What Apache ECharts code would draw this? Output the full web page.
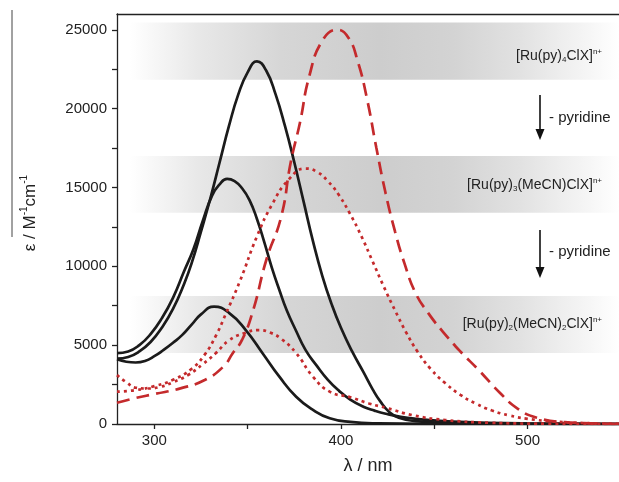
<!DOCTYPE html>
<html>
<head>
<meta charset="utf-8">
<script src="https://cdn.jsdelivr.net/npm/echarts@6/dist/echarts.min.js"></script>
<style>
  html, body { margin: 0; padding: 0; background: #fff; }
  #chart { width: 619px; height: 482px; }
</style>
</head>
<body>
<div id="chart"></div>
<script>
// ---- axis ticks ----
const xTicks = [300, 350, 400, 450, 500];
const xLabels = [300, 400, 500];
const yTicks = [0, 2500, 5000, 7500, 10000, 12500, 15000, 17500, 20000, 22500, 25000];
const yLabels = [0, 5000, 10000, 15000, 20000, 25000];

// ---- black solid spectra ----
const blackA_nm  = [280, 286, 292, 298, 304, 310, 316, 320, 325, 330, 335, 340, 345, 350, 355, 360, 365, 370, 375, 380, 385, 390, 395, 400, 406, 412, 417, 421, 426, 431, 440, 460, 500, 549];
const blackA_eps = [4150, 4250, 4600, 5200, 6100, 7300, 8900, 10200, 12200, 14300, 16600, 18900, 20900, 22300, 23000, 22400, 20900, 18900, 16600, 14100, 11600, 9400, 7600, 6100, 4600, 3300, 2200, 1450, 750, 400, 180, 60, 20, 0];

const blackB_nm  = [280, 286, 292, 298, 304, 310, 316, 321, 326, 331, 335, 339, 343, 347, 351, 355, 359, 363, 367, 371, 376, 381, 387, 393, 399, 405, 412, 418, 424, 432, 440, 460, 500, 549];
const blackB_eps = [4500, 4600, 5000, 5700, 6700, 8000, 9700, 11100, 12900, 14500, 15200, 15545, 15400, 14950, 14200, 13000, 11500, 9900, 8500, 7200, 5900, 4700, 3700, 2800, 2100, 1550, 1100, 850, 650, 450, 330, 150, 30, 0];

const blackC_nm  = [280, 285, 290, 295, 300, 305, 310, 315, 320, 325, 332, 340, 349, 358, 367, 376, 385, 394, 405, 420, 450, 549];
const blackC_eps = [4100, 3950, 3900, 4000, 4300, 4700, 5150, 5650, 6300, 6950, 7440, 7050, 5960, 4490, 3000, 1730, 890, 360, 130, 40, 10, 0];

// ---- red spectra ----
const redDash_nm  = [280, 290, 300, 314, 327, 337, 342, 347, 353, 360, 368, 373, 378, 383, 390, 398, 404, 409, 414, 419, 424, 429, 434, 440, 447, 455, 464, 474, 485, 495, 505, 520, 549];
const redDash_eps = [1350, 1650, 1900, 2260, 2790, 3640, 4490, 5330, 7230, 10400, 13150, 16540, 19090, 22040, 24300, 25000, 24500, 23000, 20600, 17500, 14600, 12200, 10200, 8300, 7000, 5800, 4600, 3400, 2000, 950, 400, 120, 0];

const redDotA_nm  = [280, 290, 300, 310, 320, 327, 333, 338, 346, 355, 363, 372, 381, 387, 393, 399, 405, 411, 417, 423, 429, 435, 441, 448, 456, 464, 472, 481, 490, 500, 515, 530, 549];
const redDotA_eps = [2050, 2150, 2400, 2800, 3500, 4400, 5600, 6900, 9100, 11900, 13900, 15500, 16200, 16000, 15400, 14500, 13300, 11900, 10300, 8700, 7200, 5800, 4600, 3500, 2580, 1850, 1310, 850, 550, 330, 150, 60, 20];

const redDotB_nm  = [280, 285, 290, 296, 303, 310, 318, 326, 333, 340, 348, 356, 362, 368, 376, 385, 394, 405, 415, 425, 438, 456, 480, 510, 549];
const redDotB_eps = [3100, 2650, 2300, 2250, 2350, 2650, 3100, 3800, 4500, 5300, 5750, 5950, 5800, 5400, 4500, 3000, 2050, 1700, 1300, 1000, 570, 250, 80, 20, 0];

// grey bands behind the three complexes [eps low, eps high]
const bands = [[21830, 25460], [13390, 17000], [4500, 8120]];
const bandNm = [287, 549];

const FONT = '"Liberation Sans", Arial, sans-serif';
const BLACK = '#1b1b1b';
const RED = '#c42a2c';

const zip = (xs, ys) => xs.map((x, i) => [x, ys[i]]);

const bandFill = new echarts.graphic.LinearGradient(0, 0, 1, 0, [
  { offset: 0, color: '#ffffff' },
  { offset: 0.14, color: '#e8e8e8' },
  { offset: 0.31, color: '#d6d6d6' },
  { offset: 0.51, color: '#cdcdcd' },
  { offset: 0.66, color: '#d3d3d3' },
  { offset: 0.8, color: '#e2e2e2' },
  { offset: 0.94, color: '#f6f6f6' },
  { offset: 1, color: '#ffffff' }
]);

function line(name, data, color, type) {
  return {
    name, type: 'line', data, showSymbol: false, smooth: 0.5, silent: true,
    lineStyle: { color, width: 2.7, type, cap: 'butt' }
  };
}

const series = [
  line('A', zip(blackA_nm, blackA_eps), BLACK, 'solid'),
  line('B', zip(blackB_nm, blackB_eps), BLACK, 'solid'),
  line('C', zip(blackC_nm, blackC_eps), BLACK, 'solid'),
  line('D', zip(redDash_nm, redDash_eps), RED, [13, 7]),
  line('E', zip(redDotA_nm, redDotA_eps), RED, [3, 4]),
  line('F', zip(redDotB_nm, redDotB_eps), RED, [3, 4])
];
series[0].markArea = {
  silent: true,
  itemStyle: { color: bandFill },
  data: bands.map(b => [{ xAxis: bandNm[0], yAxis: b[0] }, { xAxis: bandNm[1], yAxis: b[1] }])
};

const richLabel = {
  sub: { fontSize: 8, fontFamily: FONT, fill: '#222', verticalAlign: 'bottom', lineHeight: 16 },
  sup: { fontSize: 8, fontFamily: FONT, fill: '#222', verticalAlign: 'top', lineHeight: 16 }
};

function bandText(text, y) {
  return {
    type: 'text', x: 602, y, z: 10,
    style: { text, align: 'right', verticalAlign: 'middle', font: '14px ' + FONT, fill: '#222', rich: richLabel }
  };
}

function arrow(y0, y1, ty) {
  return [
    { type: 'line', shape: { x1: 540, y1: y0, x2: 540, y2: y1 - 8 }, style: { stroke: '#111', lineWidth: 1.6 }, z: 10 },
    { type: 'polygon', shape: { points: [[535.5, y1 - 11], [544.5, y1 - 11], [540, y1]] }, style: { fill: '#111' }, z: 10 },
    { type: 'text', x: 549, y: ty, z: 10, style: { text: '- pyridine', verticalAlign: 'middle', font: '15px ' + FONT, fill: '#222' } }
  ];
}

const chart = echarts.init(document.getElementById('chart'));
chart.setOption({
  backgroundColor: '#fff',
  animation: false,
  grid: { left: 117, right: 0, top: 14, bottom: 58 },
  xAxis: [{
    type: 'value', min: 280, max: 549,
    name: 'λ / nm', nameLocation: 'middle', nameGap: 33,
    nameTextStyle: { fontSize: 18, color: '#222', fontFamily: FONT },
    axisLine: { lineStyle: { color: '#222', width: 1.3 } },
    axisTick: { customValues: xTicks, length: 5, lineStyle: { color: '#222', width: 1.3 } },
    axisLabel: { customValues: xLabels, fontSize: 15, color: '#222', fontFamily: FONT, margin: 9, formatter: v => String(v) },
    splitLine: { show: false }
  }, {
    type: 'value', min: 280, max: 549, position: 'top',
    axisLine: { show: true, lineStyle: { color: '#222', width: 1.3 } },
    axisTick: { show: false }, axisLabel: { show: false }, splitLine: { show: false }
  }],
  yAxis: {
    type: 'value', min: 0, max: 26000,
    name: '{t|ε / M}{s|-1}{t|cm}{s|-1}', nameLocation: 'middle', nameGap: 78, nameRotate: 90,
    nameTextStyle: {
      padding: [0, 0, 0, 12],
      rich: {
        t: { fontSize: 17, color: '#222', fontFamily: FONT, lineHeight: 20, verticalAlign: 'bottom' },
        s: { fontSize: 10, color: '#222', fontFamily: FONT, lineHeight: 20, verticalAlign: 'top' }
      }
    },
    axisLine: { show: true, lineStyle: { color: '#222', width: 1.3 } },
    axisTick: { customValues: yTicks, length: 5, lineStyle: { color: '#222', width: 1.3 } },
    axisLabel: { customValues: yLabels, fontSize: 15, color: '#222', fontFamily: FONT, margin: 10, formatter: v => String(v) },
    splitLine: { show: false }
  },
  series,
  graphic: [
    { type: 'line', shape: { x1: 12, y1: 10, x2: 12, y2: 237 }, style: { stroke: '#444', lineWidth: 1 } },
    bandText('[Ru(py){sub|4}ClX]{sup|n+}', 56),
    bandText('[Ru(py){sub|3}(MeCN)ClX]{sup|n+}', 185),
    bandText('[Ru(py){sub|2}(MeCN){sub|2}ClX]{sup|n+}', 324),
    ...arrow(95, 140, 118),
    ...arrow(230, 278, 252)
  ]
});
</script>
</body>
</html>
